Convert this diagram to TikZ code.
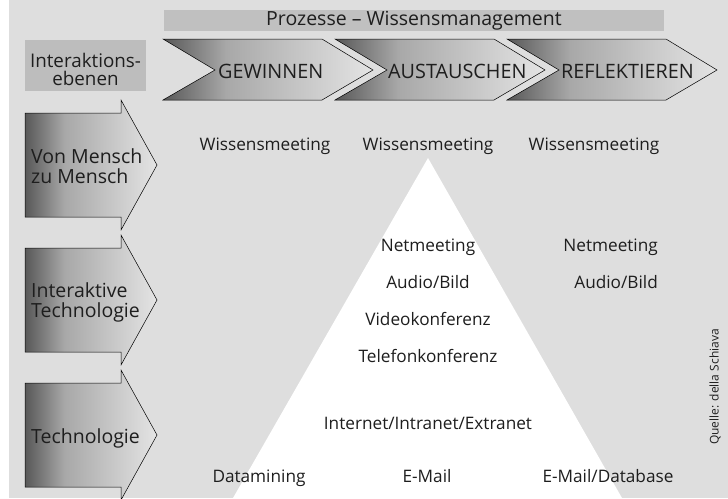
\documentclass[tikz,border=0pt]{standalone}
\usepackage{fontspec}
\setmainfont{Open Sans}

\definecolor{bggray}{HTML}{DEDEDE}
\definecolor{bargray}{HTML}{C0C0C0}
\definecolor{boxgray}{HTML}{BDBDBD}
\definecolor{shdark}{HTML}{585858}
\definecolor{shmid}{HTML}{A8A8A8}
\definecolor{shlight}{HTML}{E4E4E4}
\definecolor{txtgray}{HTML}{1E1E1E}
\pgfdeclarehorizontalshading{greyfade}{100bp}{color(0bp)=(shdark); color(25bp)=(shdark); color(40bp)=(shmid); color(75bp)=(shlight); color(100bp)=(shlight)}

\begin{document}
\begin{tikzpicture}[x=1pt, y=-1pt,
    lbl/.style={font=\fontsize{17.2}{20}\selectfont, text=txtgray, inner sep=0pt},
    sidelbl/.style={font=\fontsize{19.5}{20}\selectfont, text=txtgray, inner sep=0pt, align=left},
    biglbl/.style={font=\fontsize{19.8}{22}\selectfont, text=txtgray, inner sep=0pt},
    fade/.style={shading=greyfade, draw=black, line width=0.5pt}]
    \useasboundingbox (0,0) rectangle (728,498);
    % Hintergrund
    \fill[bggray] (9,0) rectangle (728,498);

    % Kopfzeile
    \node (prozesse) [lbl, font=\fontsize{19.5}{20}\selectfont, fill=bargray, minimum width=500pt, minimum height=21pt] at (414,20.5) {Prozesse – Wissensmanagement};
    \fill[boxgray] (25,40) rectangle (146,91);
    \node (ebenen) [lbl, font=\fontsize{18.8}{18}\selectfont, anchor=base, align=center] at (85.5,85) {Interaktions-\\ebenen};

    % Prozesse
    \shade[fade] (163,39) -- (322,39) -- (373,70) -- (322,100) -- (163,100) -- (215,70) -- cycle;
    \node (gewinnen) [biglbl, anchor=base west] at (218,78) {GEWINNEN};

    \shade[fade] (335,39) -- (494,39) -- (545,70) -- (494,100) -- (335,100) -- (387,70) -- cycle;
    \node (austauschen) [biglbl, anchor=base west] at (388,78) {AUSTAUSCHEN};

    \shade[fade] (507,39) -- (666,39) -- (717,70) -- (666,100) -- (507,100) -- (559,70) -- cycle;
    \node (reflektieren) [biglbl, anchor=base west] at (561,78) {REFLEKTIEREN};

    % Interaktionsebenen
    \shade[fade] (25,113) -- (121,113) -- (121,100) -- (157,165) -- (121,230) -- (121,217) -- (25,217) -- cycle;
    \node (mensch) [sidelbl, anchor=base west] at (31,183) {Von Mensch\\zu Mensch};

    \shade[fade] (25,248) -- (121,248) -- (121,235) -- (157,300) -- (121,365) -- (121,352) -- (25,352) -- cycle;
    \node (interaktiv) [sidelbl, anchor=base west] at (31,317) {Interaktive\\Technologie};

    \shade[fade] (25,383) -- (121,383) -- (121,370) -- (157,435) -- (121,500) -- (121,487) -- (25,487) -- cycle;
    \node (technologie) [sidelbl, anchor=base west] at (31,443) {Technologie};

    % Pyramide
    \fill[white] (428,158) -- (233,498) -- (622,498) -- cycle;

    % Von Mensch zu Mensch
    \node (meet1) [lbl, anchor=base] at (265,150) {Wissensmeeting};
    \node (meet2) [lbl, anchor=base] at (428,150) {Wissensmeeting};
    \node (meet3) [lbl, anchor=base] at (594,150) {Wissensmeeting};

    % Interaktive Technologie
    \node (net2) [lbl, anchor=base] at (428,251) {Netmeeting};
    \node (net3) [lbl, anchor=base east] at (658,251) {Netmeeting};
    \node (audio2) [lbl, anchor=base] at (428,288) {Audio/Bild};
    \node (audio3) [lbl, anchor=base east] at (658,288) {Audio/Bild};
    \node (video) [lbl, anchor=base] at (428,325) {Videokonferenz};
    \node (telefon) [lbl, anchor=base] at (428,362) {Telefonkonferenz};

    % Technologie
    \node (internet) [lbl, anchor=base] at (428,429) {Internet/Intranet/Extranet};
    \node (mining) [lbl, anchor=base] at (259,482) {Datamining};
    \node (mail) [lbl, anchor=base] at (427,482) {E-Mail};
    \node (database) [lbl, anchor=base] at (608,482) {E-Mail/Database};

    \node (quelle) [lbl, font=\fontsize{12}{14}\selectfont, rotate=90] at (715,387) {Quelle: della Schiava};
\end{tikzpicture}
\end{document}
